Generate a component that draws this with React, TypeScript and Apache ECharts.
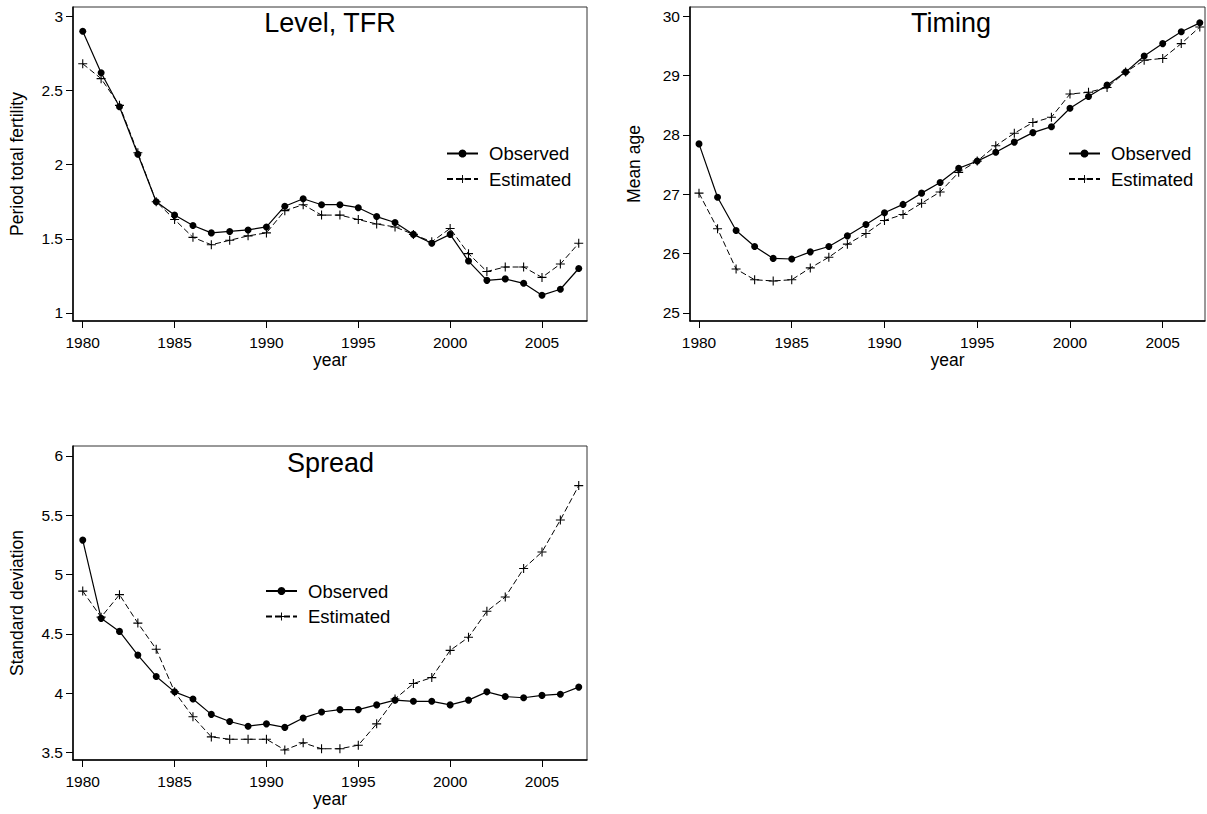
import React, { useEffect, useRef } from 'react';
import * as echarts from 'echarts';

const FONT = '"Liberation Sans", Arial, Helvetica, sans-serif';

const years = [1980, 1981, 1982, 1983, 1984, 1985, 1986, 1987, 1988, 1989, 1990, 1991, 1992, 1993, 1994, 1995, 1996, 1997, 1998, 1999, 2000, 2001, 2002, 2003, 2004, 2005, 2006, 2007];

const tfrObserved = [2.90, 2.62, 2.39, 2.07, 1.75, 1.66, 1.59, 1.54, 1.55, 1.56, 1.58, 1.72, 1.77, 1.73, 1.73, 1.71, 1.65, 1.61, 1.53, 1.47, 1.53, 1.35, 1.22, 1.23, 1.20, 1.12, 1.16, 1.30];
const tfrEstimated = [2.68, 2.58, 2.40, 2.08, 1.75, 1.63, 1.51, 1.46, 1.49, 1.52, 1.54, 1.69, 1.73, 1.66, 1.66, 1.63, 1.60, 1.58, 1.53, 1.48, 1.57, 1.40, 1.28, 1.31, 1.31, 1.24, 1.33, 1.47];

const ageObserved = [27.85, 26.95, 26.39, 26.12, 25.92, 25.91, 26.03, 26.12, 26.30, 26.49, 26.69, 26.83, 27.02, 27.20, 27.44, 27.56, 27.71, 27.88, 28.04, 28.14, 28.45, 28.65, 28.84, 29.06, 29.33, 29.54, 29.74, 29.89];
const ageEstimated = [27.02, 26.42, 25.74, 25.56, 25.54, 25.56, 25.76, 25.94, 26.16, 26.34, 26.56, 26.66, 26.85, 27.04, 27.37, 27.56, 27.82, 28.03, 28.21, 28.30, 28.69, 28.72, 28.80, 29.06, 29.26, 29.29, 29.54, 29.82];

const sdObserved = [5.29, 4.63, 4.52, 4.32, 4.14, 4.01, 3.95, 3.82, 3.76, 3.72, 3.74, 3.71, 3.79, 3.84, 3.86, 3.86, 3.90, 3.94, 3.93, 3.93, 3.90, 3.94, 4.01, 3.97, 3.96, 3.98, 3.99, 4.05];
const sdEstimated = [4.86, 4.64, 4.83, 4.59, 4.37, 4.01, 3.80, 3.63, 3.61, 3.61, 3.61, 3.52, 3.58, 3.53, 3.53, 3.56, 3.74, 3.95, 4.08, 4.13, 4.36, 4.47, 4.69, 4.81, 5.05, 5.19, 5.46, 5.75];

const xTicks = [1980, 1985, 1990, 1995, 2000, 2005];
const tfrTicks = [1, 1.5, 2, 2.5, 3];
const ageTicks = [25, 26, 27, 28, 29, 30];
const sdTicks = [3.5, 4, 4.5, 5, 5.5, 6];

const panelTitles = ['Level, TFR', 'Timing', 'Spread'];
const yNames = ['Period total fertility', 'Mean age', 'Standard deviation'];
const seriesNames = ['Observed', 'Estimated'];

const PLUS = 'path://M0,4.4H10V5.6H0Z M4.4,0H5.6V10H4.4Z';

function pairs(vals: number[]) {
  return years.map((y, i) => [y, vals[i]]);
}

function xAxis(gridIndex: number, min: number, max: number) {
  return {
    type: 'value',
    gridIndex,
    min,
    max,
    name: 'year',
    nameLocation: 'middle',
    nameGap: 30,
    nameTextStyle: { fontFamily: FONT, fontSize: 17.5, color: '#000' },
    axisLine: { show: true, onZero: false, lineStyle: { color: '#000', width: 1.5 } },
    axisTick: { show: true, inside: false, length: 7, customValues: xTicks, lineStyle: { color: '#000', width: 1 } },
    axisLabel: { margin: 13, fontFamily: FONT, fontSize: 15.5, color: '#000', customValues: xTicks, formatter: (v: number) => String(v) },
    splitLine: { show: false },
  };
}

function yAxis(gridIndex: number, min: number, max: number, ticks: number[], name: string) {
  return {
    type: 'value',
    gridIndex,
    min,
    max,
    name,
    nameLocation: 'middle',
    nameGap: 47,
    nameTextStyle: { fontFamily: FONT, fontSize: 17.5, color: '#000' },
    axisLine: { show: true, onZero: false, lineStyle: { color: '#000', width: 1.5 } },
    axisTick: { show: true, inside: false, length: 7, customValues: ticks, lineStyle: { color: '#000', width: 1 } },
    axisLabel: { margin: 10, fontFamily: FONT, fontSize: 15.5, color: '#000', customValues: ticks, formatter: (v: number) => String(v) },
    splitLine: { show: false },
  };
}

function obsSeries(idx: number, vals: number[]) {
  return {
    name: seriesNames[0],
    type: 'line',
    xAxisIndex: idx,
    yAxisIndex: idx,
    data: pairs(vals),
    symbol: 'circle',
    symbolSize: 7,
    showSymbol: true,
    silent: true,
    lineStyle: { color: '#000', width: 1.2, type: 'solid' },
    itemStyle: { color: '#000', borderWidth: 0 },
    emphasis: { disabled: true },
  };
}

function estSeries(idx: number, vals: number[]) {
  return {
    name: seriesNames[1],
    type: 'line',
    xAxisIndex: idx,
    yAxisIndex: idx,
    data: pairs(vals),
    symbol: PLUS,
    symbolSize: 9,
    showSymbol: true,
    silent: true,
    lineStyle: { color: '#000', width: 1, type: [6, 3] },
    itemStyle: { color: '#000', borderWidth: 0 },
    emphasis: { disabled: true },
  };
}

function legend(left: number, top: number) {
  return {
    data: seriesNames,
    orient: 'vertical',
    left,
    top,
    padding: 0,
    itemWidth: 31,
    itemHeight: 10,
    itemGap: 6.5,
    selectedMode: false,
    textStyle: { fontFamily: FONT, fontSize: 18.5, color: '#000', padding: [0, 0, 0, 6] },
  };
}

function titleText(text: string, x: number, y: number) {
  return {
    type: 'text',
    x,
    y,
    silent: true,
    style: { text, align: 'center', verticalAlign: 'middle', fontFamily: FONT, fontSize: 27, fill: '#000' },
  };
}

export default function App() {
  const ref = useRef<HTMLDivElement>(null);
  useEffect(() => {
    if (!ref.current) return;
    const chart = echarts.init(ref.current, null, { renderer: 'svg' });
    const gridStyle = { show: true, borderColor: '#333', borderWidth: 1, backgroundColor: 'transparent' };
    chart.setOption({
      animation: false,
      backgroundColor: '#fff',
      grid: [
        { ...gridStyle, left: 73, top: 7, width: 514, height: 314 },
        { ...gridStyle, left: 690, top: 7, width: 515, height: 314 },
        { ...gridStyle, left: 73, top: 446, width: 514, height: 314 },
      ],
      xAxis: [
        xAxis(0, 1979.47, 2007.45),
        xAxis(1, 1979.515, 2007.28),
        xAxis(2, 1979.47, 2007.45),
      ],
      yAxis: [
        yAxis(0, 0.946, 3.063, tfrTicks, yNames[0]),
        yAxis(1, 24.865, 30.157, ageTicks, yNames[1]),
        yAxis(2, 3.435, 6.084, sdTicks, yNames[2]),
      ],
      legend: [legend(446, 144), legend(1068, 144), legend(265, 581.5)],
      graphic: [
        titleText(panelTitles[0], 330, 23),
        titleText(panelTitles[1], 951, 23),
        titleText(panelTitles[2], 330.5, 463),
      ],
      series: [
        obsSeries(0, tfrObserved),
        estSeries(0, tfrEstimated),
        obsSeries(1, ageObserved),
        estSeries(1, ageEstimated),
        obsSeries(2, sdObserved),
        estSeries(2, sdEstimated),
      ],
    });
    return () => chart.dispose();
  }, []);
  return (
    <div
      ref={ref}
      style={{ position: 'fixed', left: 0, top: 0, width: 1207, height: 814, background: '#fff' }}
    />
  );
}
